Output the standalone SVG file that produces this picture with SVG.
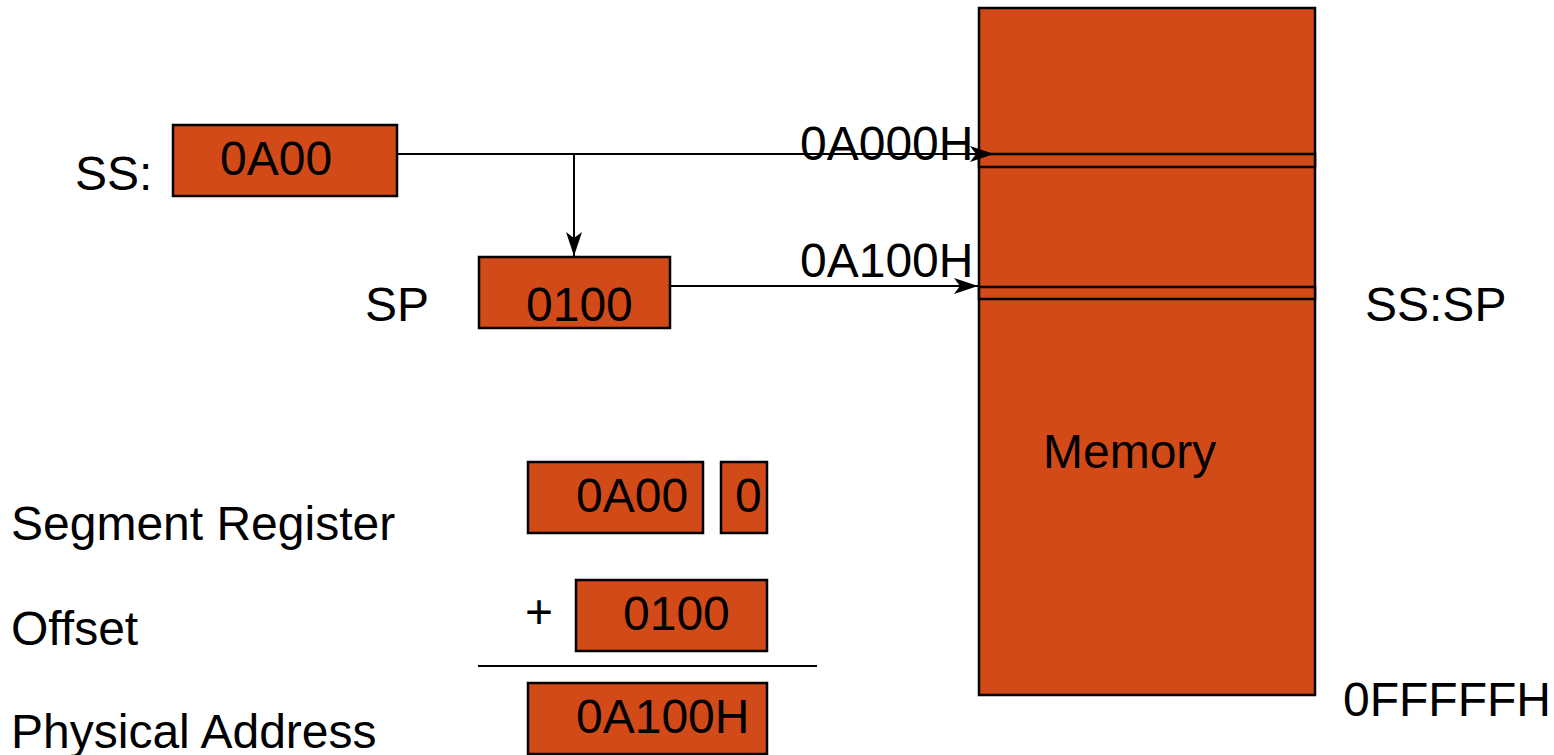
<svg xmlns="http://www.w3.org/2000/svg" width="1554" height="755" viewBox="0 0 1554 755">
  <style>
    .box { fill: #D24A18; stroke: #000; stroke-width: 2.5; }
    .t { font-family: "Liberation Sans", Arial, sans-serif; font-size: 48px; fill: #000; }
    .wire { stroke: #000; stroke-width: 2; fill: none; }
  </style>
  <defs>
    <marker id="arrow" viewBox="0 0 24 16" refX="24" refY="8" markerWidth="24" markerHeight="16" markerUnits="userSpaceOnUse" orient="auto">
      <path d="M0,0 L24,8 L0,16 L6,8 Z" fill="#000"/>
    </marker>
  </defs>

  <!-- memory block with two marked cells -->
  <g id="memory">
    <rect class="box" x="979" y="8" width="336" height="687"/>
    <rect class="box" x="979" y="154" width="336" height="13"/>
    <rect class="box" x="979" y="287" width="336" height="12"/>
    <text class="t" x="1043" y="468">Memory</text>
  </g>

  <!-- SS register -->
  <g id="ss">
    <text class="t" x="75" y="190">SS:</text>
    <rect class="box" x="173" y="125" width="224" height="71"/>
    <text class="t" x="220" y="175">0A00</text>
  </g>

  <!-- SP register -->
  <g id="sp">
    <text class="t" x="365" y="321">SP</text>
    <rect class="box" x="479" y="257" width="191" height="71"/>
    <text class="t" x="526" y="321">0100</text>
  </g>

  <!-- connectors -->
  <g id="connectors">
    <line class="wire" x1="397" y1="154" x2="994" y2="154" marker-end="url(#arrow)"/>
    <line class="wire" x1="574" y1="154" x2="574" y2="256" marker-end="url(#arrow)"/>
    <line class="wire" x1="670" y1="286" x2="978" y2="286" marker-end="url(#arrow)"/>
  </g>

  <!-- address labels -->
  <g id="labels">
    <text class="t" x="800" y="160">0A000H</text>
    <text class="t" x="800" y="277">0A100H</text>
    <text class="t" x="1365" y="321">SS:SP</text>
    <text class="t" x="1343" y="716">0FFFFFH</text>
  </g>

  <!-- physical address computation -->
  <g id="calc">
    <text class="t" x="11" y="540">Segment Register</text>
    <text class="t" x="11" y="645">Offset</text>
    <text class="t" x="11" y="748">Physical Address</text>

    <rect class="box" x="528" y="462" width="175" height="71"/>
    <text class="t" x="576" y="512">0A00</text>
    <rect class="box" x="721" y="462" width="46" height="71"/>
    <text class="t" x="735" y="512">0</text>

    <text class="t" x="525" y="628">+</text>
    <rect class="box" x="576" y="580" width="191" height="71"/>
    <text class="t" x="623" y="630">0100</text>

    <line class="wire" x1="478" y1="666" x2="817" y2="666"/>

    <rect class="box" x="528" y="683" width="239" height="71"/>
    <text class="t" x="576" y="733">0A100H</text>
  </g>
</svg>
